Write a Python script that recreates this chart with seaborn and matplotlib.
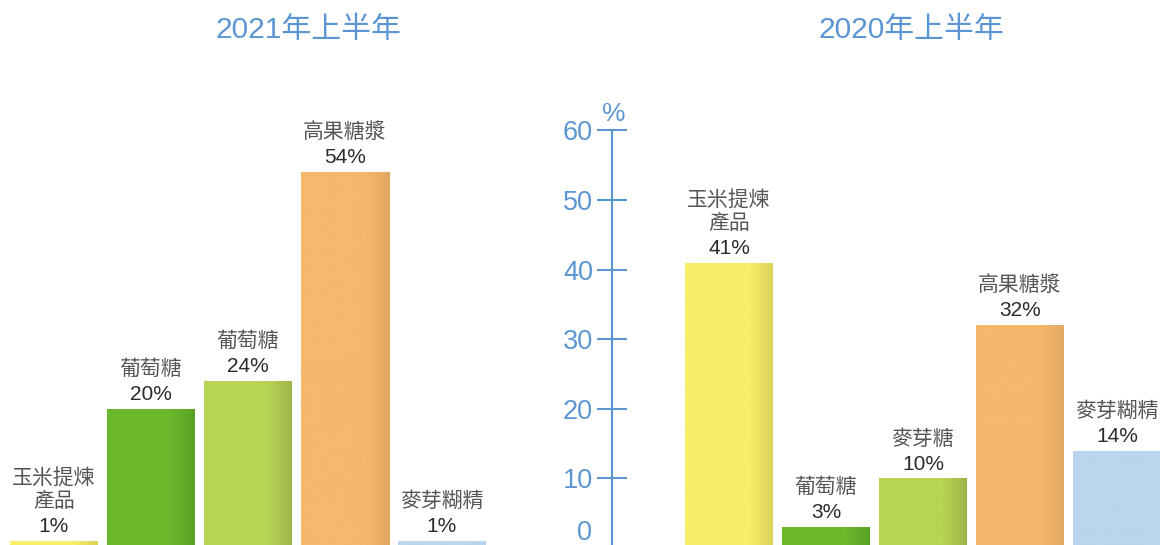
import numpy as np
import pandas as pd
import matplotlib
matplotlib.use("Agg")
import matplotlib.pyplot as plt
from matplotlib.colors import to_rgb
import seaborn as sns

sns.set_theme(style="white")
plt.rcParams["font.family"] = ["Liberation Sans", "Noto Sans CJK TC", "DejaVu Sans"]

# --- data ---
titles = ["2021年上半年", "2020年上半年"]
names_2021 = ["玉米提煉\n產品", "葡萄糖", "葡萄糖", "高果糖漿", "麥芽糊精"]
values_2021 = [1, 20, 24, 54, 1]
names_2020 = ["玉米提煉\n產品", "葡萄糖", "麥芽糖", "高果糖漿", "麥芽糊精"]
values_2020 = [41, 3, 10, 32, 14]
bar_colors = ["#f8ef69", "#6cb82d", "#b8d453", "#f5b86c", "#bad5ee"]
edge_colors = ["#ddd25a", "#58a024", "#9db54a", "#e2a762", "#bad5ee"]
yticks = [10, 20, 30, 40, 50, 60]

blue = "#5b96d3"
name_col = "#555555"
pct_col = "#2e2a2a"
PX = 6.96  # pixels per percent unit

fig = plt.figure(figsize=(11.6, 5.45), dpi=100)
ax_l = fig.add_axes([0, 0, 530 / 1160, 445 / 545])
ax_r = fig.add_axes([540 / 1160, 0, 620 / 1160, 445 / 545])


def draw_panel(ax, names, values, x0_px, x1_px, c0_px):
    df = pd.DataFrame({"pos": range(len(values)), "val": values})
    sns.barplot(data=df, x="pos", y="val", hue="pos", palette=bar_colors,
                saturation=1, width=88 / 97, legend=False, ax=ax, linewidth=0)
    # gradient on right side of each bar
    for p, c, e in zip(ax.patches, bar_colors, edge_colors):
        x, w, h = p.get_x(), p.get_width(), p.get_height()
        t = np.linspace(0, 1, 200)
        a = np.clip((t - 0.72) / 0.28, 0, 1)
        rgb = (1 - a)[:, None] * np.array(to_rgb(c)) + a[:, None] * np.array(to_rgb(e))
        im = ax.imshow(rgb[None, :, :], extent=[x, x + w, 0, h], aspect="auto",
                       zorder=p.get_zorder() + 0.1, interpolation="bilinear")
        im.set_clip_path(p)
    ax.set_xlim(-(c0_px - x0_px) / 97, (x1_px - c0_px) / 97)
    ax.set_ylim(3 / PX, 3 / PX + 445 / PX)
    for p, n, v in zip(ax.patches, names, values):
        cx = p.get_x() + p.get_width() / 2
        ax.annotate(f"{v}%", (cx, v), xytext=(0, 3.5), textcoords="offset points",
                    ha="center", va="bottom", fontsize=15, color=pct_col)
        ax.annotate(n, (cx, v), xytext=(0, 21.5), textcoords="offset points",
                    ha="center", va="bottom", fontsize=15, color=name_col,
                    linespacing=1.25)
    ax.set_xlabel("")
    ax.set_ylabel("")
    ax.set_xticks([])
    for s in ax.spines.values():
        s.set_visible(False)
    ax.patch.set_alpha(0)


draw_panel(ax_l, names_2021, values_2021, 0, 530, 54)
ax_l.set_yticks([])

draw_panel(ax_r, names_2020, values_2020, 540, 1160, 729)
ax_r.spines["left"].set_visible(True)
ax_r.spines["left"].set_color(blue)
ax_r.spines["left"].set_linewidth(1.5)
ax_r.spines["left"].set_position(("data", (612 - 729) / 97))
ax_r.spines["left"].set_bounds(-5, 60)
ax_r.set_yticks(yticks)
ax_r.set_yticklabels([str(v) for v in yticks])
ax_r.tick_params(axis="y", direction="inout", length=21, width=1.5, color=blue,
                 labelcolor=blue, labelsize=19.5, pad=3, left=True)
ax_r.text((592 - 729) / 97, 15 / PX, "0", ha="right", va="center",
          fontsize=19.5, color=blue)
ax_r.text((614 - 729) / 97, 62.3, "%", ha="center", va="center",
          fontsize=19, color=blue)

fig.text(308 / 1160, 1 - 30 / 545, titles[0], ha="center", va="center",
         fontsize=21.5, color=blue)
fig.text(911 / 1160, 1 - 30 / 545, titles[1], ha="center", va="center",
         fontsize=21.5, color=blue)

fig.savefig("out.png", dpi=100)
